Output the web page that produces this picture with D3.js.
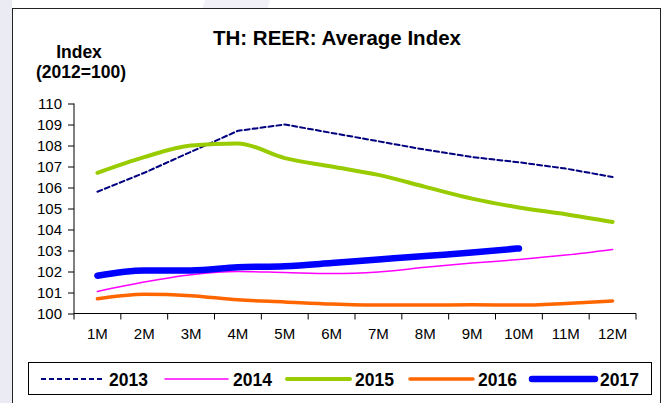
<html>
<head>
<meta charset="utf-8" />
<title>TH REER</title>
<script src="https://d3js.org/d3.v7.min.js"></script>
<style>
  body { margin: 0; background: #fff; }
  text { font-family: "Liberation Sans", Arial, sans-serif; }
</style>
</head>
<body>
<svg width="667" height="403" id="svg1"></svg>
<script>
// months on the x axis
var months = ["1M","2M","3M","4M","5M","6M","7M","8M","9M","10M","11M","12M"];
var yTicks = [100,101,102,103,104,105,106,107,108,109,110];

// REER average index per year (2012=100)
var y2013 = [105.8,106.7,107.7,108.7,109.0,108.6,108.2,107.8,107.45,107.2,106.9,106.5];
var y2014 = [101.05,101.5,101.85,102.0,101.95,101.9,101.98,102.2,102.4,102.57,102.78,103.05];
var y2015 = [106.7,107.45,108.0,108.1,107.4,107.0,106.6,106.03,105.47,105.05,104.73,104.36];
var y2016 = [100.7,100.92,100.85,100.65,100.55,100.45,100.4,100.4,100.42,100.4,100.48,100.6];
var y2017 = [101.8,102.05,102.05,102.2,102.25,102.4,102.57,102.74,102.9,103.1];

var series = [
  {name:"2013", values:y2013, color:"#000080", width:2,   dash:"5,3", curve:d3.curveLinear},
  {name:"2014", values:y2014, color:"#ff00ff", width:1.5, dash:null,  curve:d3.curveMonotoneX},
  {name:"2015", values:y2015, color:"#99cc00", width:4,   dash:null,  curve:d3.curveMonotoneX},
  {name:"2016", values:y2016, color:"#ff6600", width:3.5, dash:null,  curve:d3.curveMonotoneX},
  {name:"2017", values:y2017, color:"#0000ff", width:6.5, dash:null,  curve:d3.curveMonotoneX}
];

var svg = d3.select("#svg1");

// background: lavender strip + faint watermark
svg.append("rect").attr("x",0).attr("y",0).attr("width",12).attr("height",403).attr("fill","#ebebf4");
svg.append("path").attr("d","M205,0 L270,0 L150,403 L85,403 Z").attr("fill","#f1f1f7");

// outer frame
svg.append("rect").attr("x",12.5).attr("y",8.5).attr("width",648).attr("height",400)
  .attr("fill","#fff").attr("stroke","#222").attr("stroke-width",1);

var plotLeft = 74, plotRight = 636, plotTop = 103.5, plotBottom = 313.5;

var x = d3.scaleBand().domain(months).range([plotLeft, plotRight]);
var y = d3.scaleLinear().domain([100,110]).range([plotBottom, plotTop]);

// titles
svg.append("text").attr("x",337).attr("y",45).attr("text-anchor","middle")
  .attr("font-size",20.5).attr("font-weight","bold").text("TH: REER: Average Index");
svg.append("text").attr("x",79).attr("y",58).attr("text-anchor","middle")
  .attr("font-size",17.5).attr("font-weight","bold").text("Index");
svg.append("text").attr("x",81).attr("y",78).attr("text-anchor","middle")
  .attr("font-size",17.5).attr("font-weight","bold").text("(2012=100)");

// y axis
var yAxis = svg.append("g").attr("transform","translate("+plotLeft+",0)")
  .call(d3.axisLeft(y).tickValues(yTicks).tickSize(6).tickPadding(6).tickFormat(d3.format("d")));
yAxis.selectAll("text").attr("font-size",15).attr("fill","#000").style("font-family","Liberation Sans, Arial");
yAxis.selectAll("line").attr("stroke","#000");
yAxis.select(".domain").attr("d","M0,"+plotTop+"V"+plotBottom).attr("stroke","#000");

// x axis with ticks at the category boundaries
var xAxis = svg.append("g").attr("transform","translate(0,"+plotBottom+")");
xAxis.append("line").attr("x1",plotLeft).attr("x2",plotRight).attr("stroke","#000");
xAxis.selectAll(".tk").data(d3.range(months.length+1)).enter().append("line")
  .attr("x1",function(i){ return plotLeft + i*x.step(); })
  .attr("x2",function(i){ return plotLeft + i*x.step(); })
  .attr("y1",0).attr("y2",6).attr("stroke","#000");
xAxis.selectAll(".lb").data(months).enter().append("text")
  .attr("x",function(d){ return x(d) + x.bandwidth()/2; })
  .attr("y",25).attr("text-anchor","middle").attr("font-size",15).text(function(d){ return d; });

// lines
series.forEach(function(s){
  var line = d3.line()
    .x(function(d,i){ return x(months[i]) + x.bandwidth()/2; })
    .y(function(d){ return y(d); })
    .curve(s.curve);
  svg.append("path").datum(s.values)
    .attr("d",line).attr("fill","none")
    .attr("stroke",s.color).attr("stroke-width",s.width)
    .attr("stroke-linecap","round").attr("stroke-linejoin","round")
    .attr("stroke-dasharray",s.dash);
});

// legend
svg.append("rect").attr("x",28.5).attr("y",362.5).attr("width",623).attr("height",32)
  .attr("fill","#fff").attr("stroke","#000").attr("stroke-width",1);
var legX = [41, 165, 287, 410, 532];
series.forEach(function(s,i){
  var g = svg.append("g").attr("transform","translate("+legX[i]+",379)");
  g.append("line").attr("x1",0).attr("x2",63).attr("y1",0).attr("y2",0)
    .attr("stroke",s.color).attr("stroke-width",s.width)
    .attr("stroke-linecap", s.dash ? "butt" : "round")
    .attr("stroke-dasharray",s.dash);
  g.append("text").attr("x",68).attr("y",6.5).attr("font-size",17.5).attr("font-weight","bold").text(s.name);
});
</script>
</body>
</html>
